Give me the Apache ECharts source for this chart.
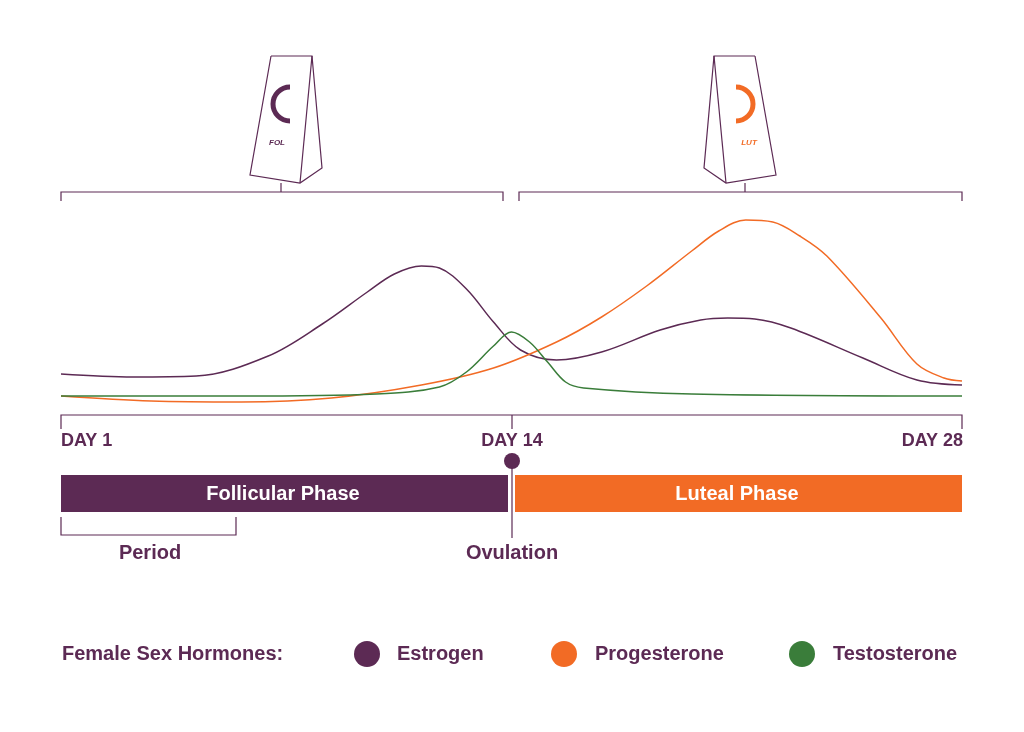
<!DOCTYPE html><html><head><meta charset="utf-8"><script src="https://cdn.jsdelivr.net/npm/echarts@6/dist/echarts.min.js"></script>
<style>body{margin:0;background:#fff}#c{width:1024px;height:732px}</style></head><body><div id="c"></div><script>
const estrogen=[[0,40],[8,37],[15,38],[23,58],[29,90],[34,122],[37,140],[40,148],[42,146],[45,125],[48,92],[51,64],[55,54],[60,62],[66.5,84],[71,94],[74,96],[77,95],[81,86],[89,56],[95,34],[100,29]];
const progesterone=[[0,18],[10,13],[20,12],[30,16],[40,29],[48,46],[55,72],[60,97],[65,128],[70,163],[73,183],[76,194],[79,192],[82,178],[85,158],[91,96],[95,50],[98,36],[100,33]];
const testosterone=[[0,18],[20,18],[35,20],[42,27],[45,42],[48,68],[50,82],[52,72],[54,52],[56,32],[58,26],[70,20],[100,18]];
const dayLabels=['DAY 1','DAY 14','DAY 28'];
const legendNames=['Estrogen','Progesterone','Testosterone'];
const P='#5c2a54',O='#f26b25',G='#3a7d3a';
const chart=echarts.init(document.getElementById('c'));
const F='"Liberation Sans", Arial, sans-serif';
function txt(x,y,t,opt){return {type:'text',x,y,style:Object.assign({text:t,fill:P,font:'bold 20px '+F,textVerticalAlign:'middle'},opt||{})};}
function pkg(cx,flip,color,label){
  const m=x=>flip?(286+cx)-x:x;
  const pts=[[271,56],[312,56],[322,168],[300,183],[250,175],[271,56]].map(p=>[m(p[0]),p[1]]);
  const a=flip?{startAngle:-Math.PI*0.5,endAngle:Math.PI*0.5}:{startAngle:Math.PI*0.5,endAngle:Math.PI*1.5};
  return [
    {type:'polyline',shape:{points:pts},style:{stroke:P,lineWidth:1.2,fill:'#fff'}},
    {type:'line',shape:{x1:m(312),y1:56,x2:m(300),y2:183},style:{stroke:P,lineWidth:1.2}},
    {type:'line',shape:{x1:m(281),y1:183,x2:m(281),y2:192},style:{stroke:P,lineWidth:1.2}},
    {type:'arc',shape:Object.assign({cx:m(290),cy:104,r:17},a),style:{stroke:color,lineWidth:5,fill:null}},
    {type:'text',x:m(277),y:143,style:{text:label,fill:color,font:'bold italic 8px '+F,textAlign:'center',textVerticalAlign:'middle'}}
  ];
}
function bracket(x1,x2,y,d){return {type:'polyline',shape:{points:[[x1,y+d],[x1,y],[x2,y],[x2,y+d]]},style:{stroke:P,lineWidth:1.2,fill:null}};}
const g=[
  bracket(61,503,192,9),bracket(519,962,192,9),
  ...pkg(286,false,P,'FOL'),...pkg(740,true,O,'LUT'),
  bracket(61,962,415,14),{type:'line',shape:{x1:512,y1:415,x2:512,y2:429},style:{stroke:P,lineWidth:1.2}},
  txt(61,441,dayLabels[0],{font:'bold 18px '+F}),txt(512,441,dayLabels[1],{textAlign:'center',font:'bold 18px '+F}),txt(963,441,dayLabels[2],{textAlign:'right',font:'bold 18px '+F}),
  {type:'rect',shape:{x:61,y:475,width:447,height:37},style:{fill:P}},
  {type:'rect',shape:{x:515,y:475,width:447,height:37},style:{fill:O}},
  txt(283,494,'Follicular Phase',{fill:'#fff',textAlign:'center'}),
  txt(737,494,'Luteal Phase',{fill:'#fff',textAlign:'center'}),
  {type:'line',shape:{x1:512,y1:461,x2:512,y2:538},style:{stroke:P,lineWidth:1.2}},
  {type:'circle',shape:{cx:512,cy:461,r:8},style:{fill:P}},
  bracket(61,236,535,-18),
  txt(150,553,'Period',{textAlign:'center'}),txt(512,553,'Ovulation',{textAlign:'center'}),
  txt(62,654,'Female Sex Hormones:'),
  {type:'circle',shape:{cx:367,cy:654,r:13},style:{fill:P}},txt(397,654,legendNames[0]),
  {type:'circle',shape:{cx:564,cy:654,r:13},style:{fill:O}},txt(595,654,legendNames[1]),
  {type:'circle',shape:{cx:802,cy:654,r:13},style:{fill:G}},txt(833,654,legendNames[2])
];
const s=(d,c)=>({type:'line',data:d,smooth:0.35,symbol:'none',lineStyle:{color:c,width:1.5},z:3});
chart.setOption({animation:false,
  grid:{left:61,right:62,top:214,bottom:318},
  xAxis:{type:'value',min:0,max:100,show:false},
  yAxis:{type:'value',min:0,max:200,show:false},
  series:[s(estrogen,P),s(progesterone,O),s(testosterone,G)],
  graphic:g});
</script></body></html>
